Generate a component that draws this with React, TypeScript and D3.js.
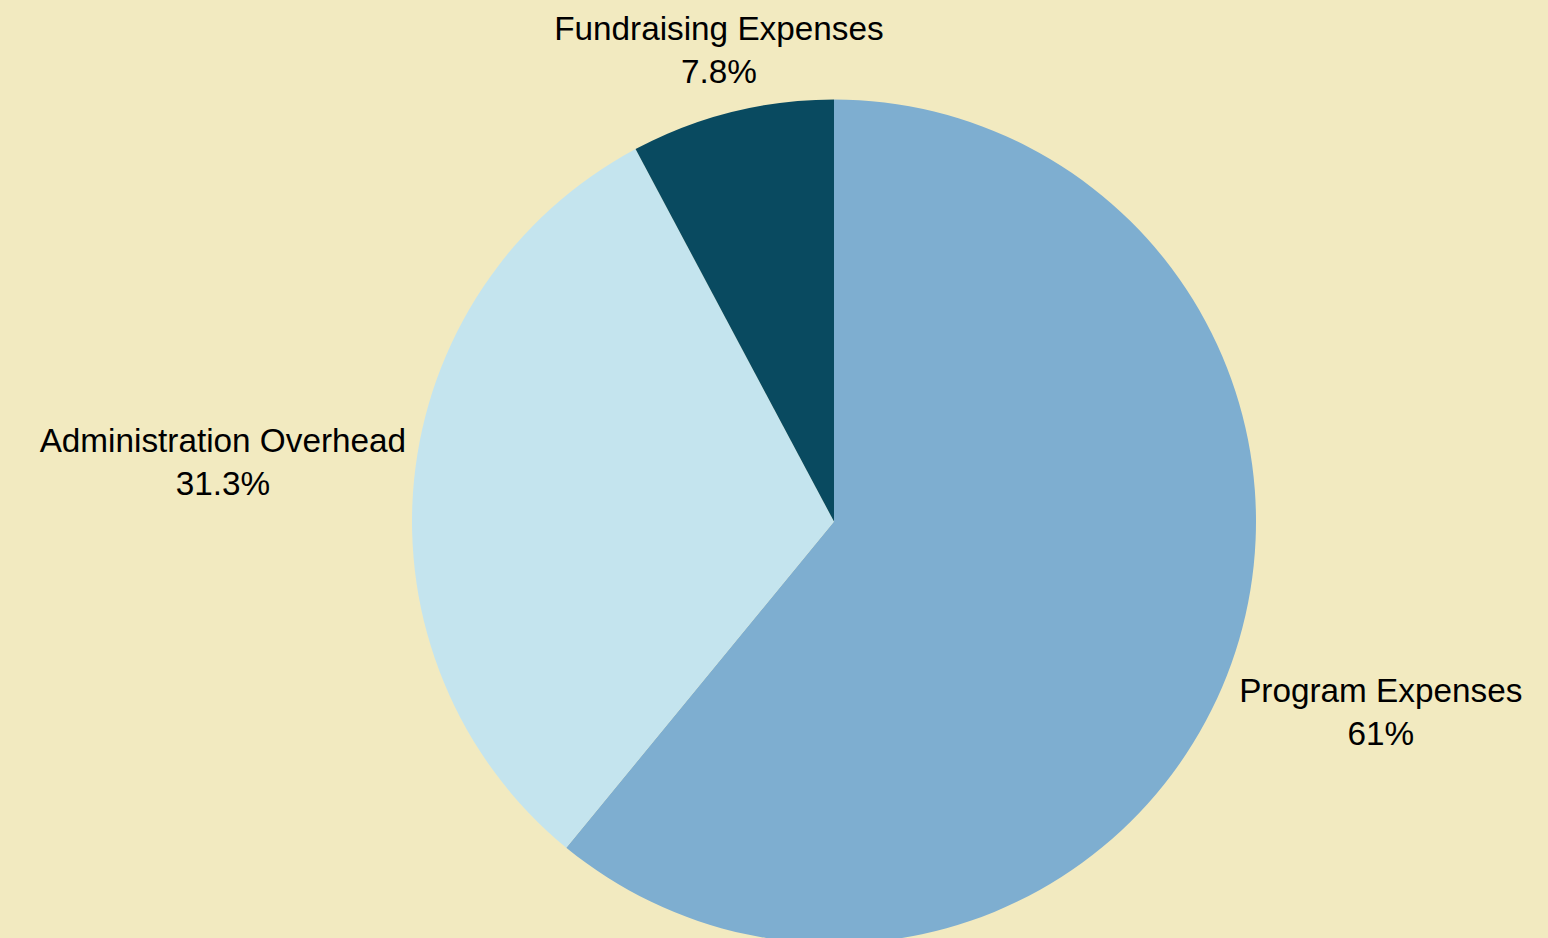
import React from "react";
import * as d3 from "d3";

const categories = ["Program Expenses", "Administration Overhead", "Fundraising Expenses"];
const values = [61, 31.3, 7.8];
const colors = ["#7eaed0", "#c4e4ee", "#094a60"];

const W = 1548;
const H = 938;
const BG = "#f2eac0";
const FONT_SIZE = 33.3;
const LINE_H = 43;
const FONT_FAMILY = "'Liberation Sans', Arial, sans-serif";

function measure(text: string): number {
  if (typeof document === "undefined") return text.length * FONT_SIZE * 0.55;
  const c = document.createElement("canvas");
  const ctx = c.getContext("2d");
  if (!ctx) return text.length * FONT_SIZE * 0.55;
  ctx.font = `${FONT_SIZE}px ${FONT_FAMILY}`;
  return ctx.measureText(text).width;
}

export default function App() {
  const cx = 834;
  const cy = 521.5;
  const r = 422;
  const labelR = r + 3;
  const hGap = 5;

  const pie = d3.pie<number>().sort(null).value((d) => d).startAngle(0).endAngle(2 * Math.PI);
  const arcs = pie(values);
  const arcGen = d3.arc<d3.PieArcDatum<number>>().innerRadius(0).outerRadius(r);

  return (
    <svg
      width={W}
      height={H}
      style={{ position: "fixed", left: 0, top: 0, display: "block" }}
      fontFamily={FONT_FAMILY}
    >
      <rect x={0} y={0} width={W} height={H} fill={BG} />
      <g transform={`translate(${cx},${cy})`}>
        {arcs.map((a, i) => (
          <path key={categories[i]} d={arcGen(a) || ""} fill={colors[i]} />
        ))}
        {arcs.map((a, i) => {
          const mid = (a.startAngle + a.endAngle) / 2;
          const dx = Math.sin(mid);
          const dy = -Math.cos(mid);
          const px = dx * labelR;
          const py = dy * labelR;
          const pct = `${values[i]}%`;
          const w = Math.max(measure(categories[i]), measure(pct));
          let x = px;
          if (dx > 0.5) x = px + hGap + w / 2;
          else if (dx < -0.5) x = px - hGap - w / 2;
          else x = px + dx * 50;
          let y1: number;
          if (dy > 0.3) y1 = py + 37;
          else if (dy < -0.3) y1 = py - 26 - LINE_H;
          else y1 = py - 28;
          return (
            <text key={"l" + categories[i]} textAnchor="middle" fontSize={FONT_SIZE} fill="#000">
              <tspan x={x} y={y1}>{categories[i]}</tspan>
              <tspan x={x} y={y1 + LINE_H}>{pct}</tspan>
            </text>
          );
        })}
      </g>
    </svg>
  );
}
